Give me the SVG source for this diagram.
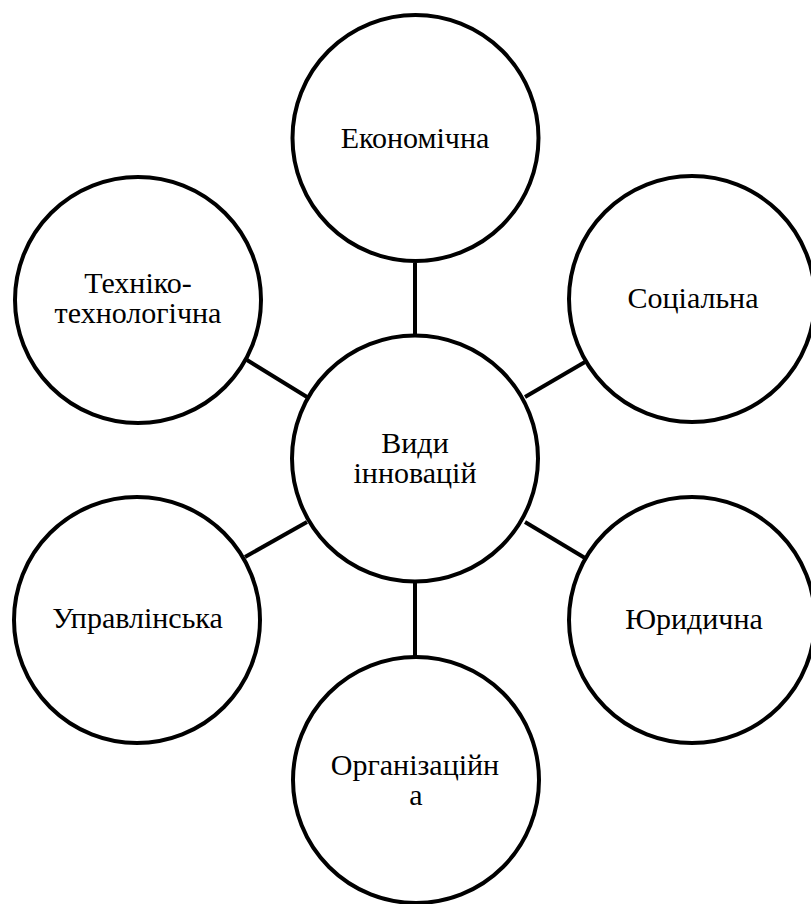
<svg xmlns="http://www.w3.org/2000/svg" width="811" height="904" viewBox="0 0 811 904">
<style>
.n{fill:#fff;stroke:#000;stroke-width:4}
.c line{stroke:#000;stroke-width:4}
.t{font-family:'Liberation Serif','Times New Roman',serif;font-size:30px;fill:#000;text-anchor:middle}
</style>
<rect width="811" height="904" fill="#fff"/>
<g class="c" id="connectors">
<line x1="415" y1="263" x2="415" y2="335"/>
<line x1="415" y1="582" x2="415" y2="657"/>
<line x1="247" y1="360" x2="307" y2="397"/>
<line x1="585" y1="362" x2="525" y2="397"/>
<line x1="245" y1="557" x2="307" y2="522"/>
<line x1="585" y1="558" x2="525" y2="522"/>
</g>
<g id="center"><circle class="n" cx="415" cy="458.5" r="123"/><text class="t" x="415" y="453">Види</text><text class="t" x="415" y="483">інновацій</text></g>
<g id="econ"><circle class="n" cx="415.5" cy="138" r="123"/><text class="t" x="415" y="148">Економічна</text></g>
<g id="social"><circle class="n" cx="692" cy="299" r="123"/><text class="t" x="693" y="308">Соціальна</text></g>
<g id="tech"><circle class="n" cx="138" cy="300" r="123"/><text class="t" x="138" y="293">Техніко-</text><text class="t" x="138" y="323">технологічна</text></g>
<g id="manage"><circle class="n" cx="137" cy="620" r="123"/><text class="t" x="137.5" y="628">Управлінська</text></g>
<g id="legal"><circle class="n" cx="692" cy="620" r="123"/><text class="t" x="694" y="629">Юридична</text></g>
<g id="org"><circle class="n" cx="416" cy="780" r="123"/><text class="t" x="415" y="775">Організаційн</text><text class="t" x="416" y="805">а</text></g>
</svg>
